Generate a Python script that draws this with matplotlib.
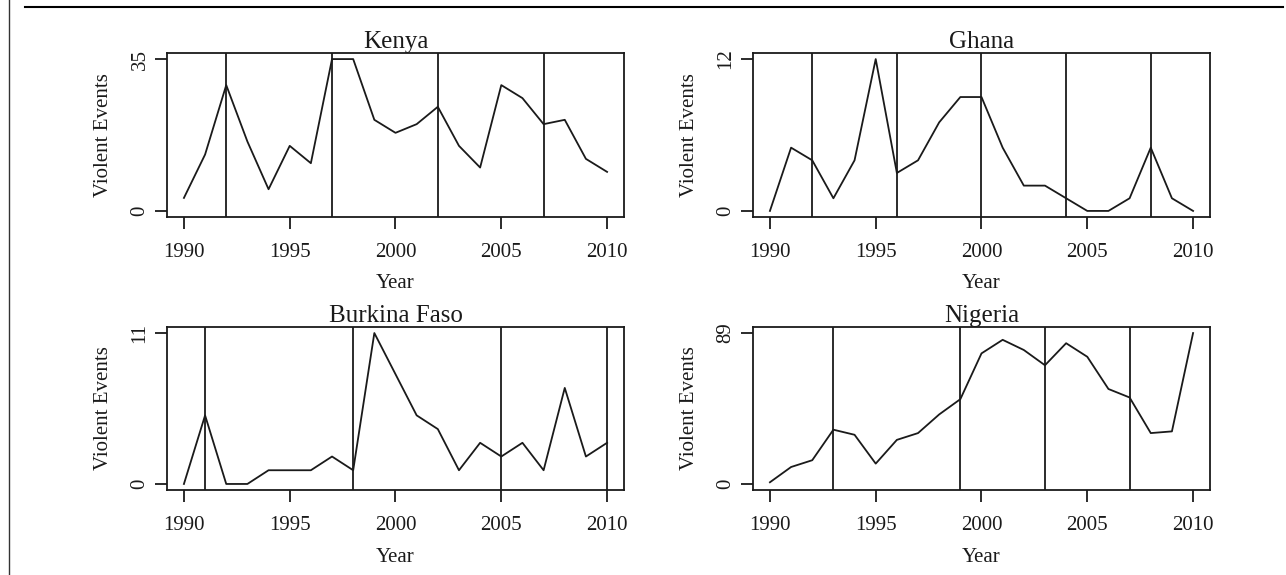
import matplotlib
matplotlib.use("Agg")
import matplotlib.pyplot as plt
from matplotlib.lines import Line2D

plt.rcParams['font.family'] = ['Liberation Serif', 'DejaVu Serif']

years = list(range(1990, 2011))

kenya = [3, 13, 29, 16, 5, 15, 11, 35, 35, 21, 18, 20, 24, 15, 10, 29, 26, 20, 21, 12, 9]
ghana = [0, 5, 4, 1, 4, 12, 3, 4, 7, 9, 9, 5, 2, 2, 1, 0, 0, 1, 5, 1, 0]
burkina = [0, 5, 0, 0, 1, 1, 1, 2, 1, 11, 8, 5, 4, 1, 3, 2, 3, 1, 7, 2, 3]
nigeria = [1, 10, 14, 32, 29, 12, 26, 30, 41, 50, 77, 85, 79, 70, 83, 75, 56, 51, 30, 31, 89]

kenya_elections = [1992, 1997, 2002, 2007]
ghana_elections = [1992, 1996, 2000, 2004, 2008]
burkina_elections = [1991, 1998, 2005, 2010]
nigeria_elections = [1993, 1999, 2003, 2007]

panels = [
    ("Kenya", kenya, kenya_elections, 35),
    ("Ghana", ghana, ghana_elections, 12),
    ("Burkina Faso", burkina, burkina_elections, 11),
    ("Nigeria", nigeria, nigeria_elections, 89),
]

W, H = 1286, 575
fig = plt.figure(figsize=(W / 100, H / 100), dpi=100)

# axes boxes in pixel coords (left, top, right, bottom)
boxes = [
    (167, 53, 624, 217),
    (753, 53, 1210, 217),
    (167, 327, 624, 490),
    (753, 327, 1210, 490),
]

ink = '#1a1a1a'
lw = 1.3
for (title, vals, elec, ymax), (l, t, r, b) in zip(panels, boxes):
    ax = fig.add_axes([l / W, 1 - b / H, (r - l) / W, (b - t) / H])
    ax.plot(years, vals, color=ink, lw=lw)
    for e in elec:
        ax.axvline(e, color=ink, lw=lw)
    ax.set_xlim(1990 - 0.8, 2010 + 0.8)
    ax.set_ylim(-0.04 * ymax, 1.04 * ymax)
    ax.set_xticks([1990, 1995, 2000, 2005, 2010])
    ax.set_yticks([0, ymax])
    for s in ax.spines.values():
        s.set_color(ink)
        s.set_linewidth(lw)
    ax.tick_params(axis='both', direction='out', length=8.6, width=lw,
                   color=ink, labelsize=15, labelcolor=ink)
    ax.tick_params(axis='x', pad=10)
    ax.tick_params(axis='y', pad=4)
    for lab in ax.get_yticklabels():
        lab.set_rotation(90)
        lab.set_va('center')
    ax.set_title(title, fontsize=18, pad=3.6, color=ink)
    axw = r - l
    axh = b - t
    ax.text(-64 / axw, 0.5, "Violent Events", transform=ax.transAxes,
            rotation=90, ha='center', va='center', fontsize=15, color=ink)
    ax.text(0.5, -67 / axh, "Year", transform=ax.transAxes,
            ha='center', va='center', fontsize=15, color=ink)

# outer frame lines
fig.add_artist(Line2D([25 / W, 1283 / W], [1 - 7 / H, 1 - 7 / H],
                      transform=fig.transFigure, color='black', lw=1.5))
fig.add_artist(Line2D([9 / W, 9 / W], [0, 1],
                      transform=fig.transFigure, color='#333333', lw=1.0))

fig.savefig("out.png", dpi=100)
